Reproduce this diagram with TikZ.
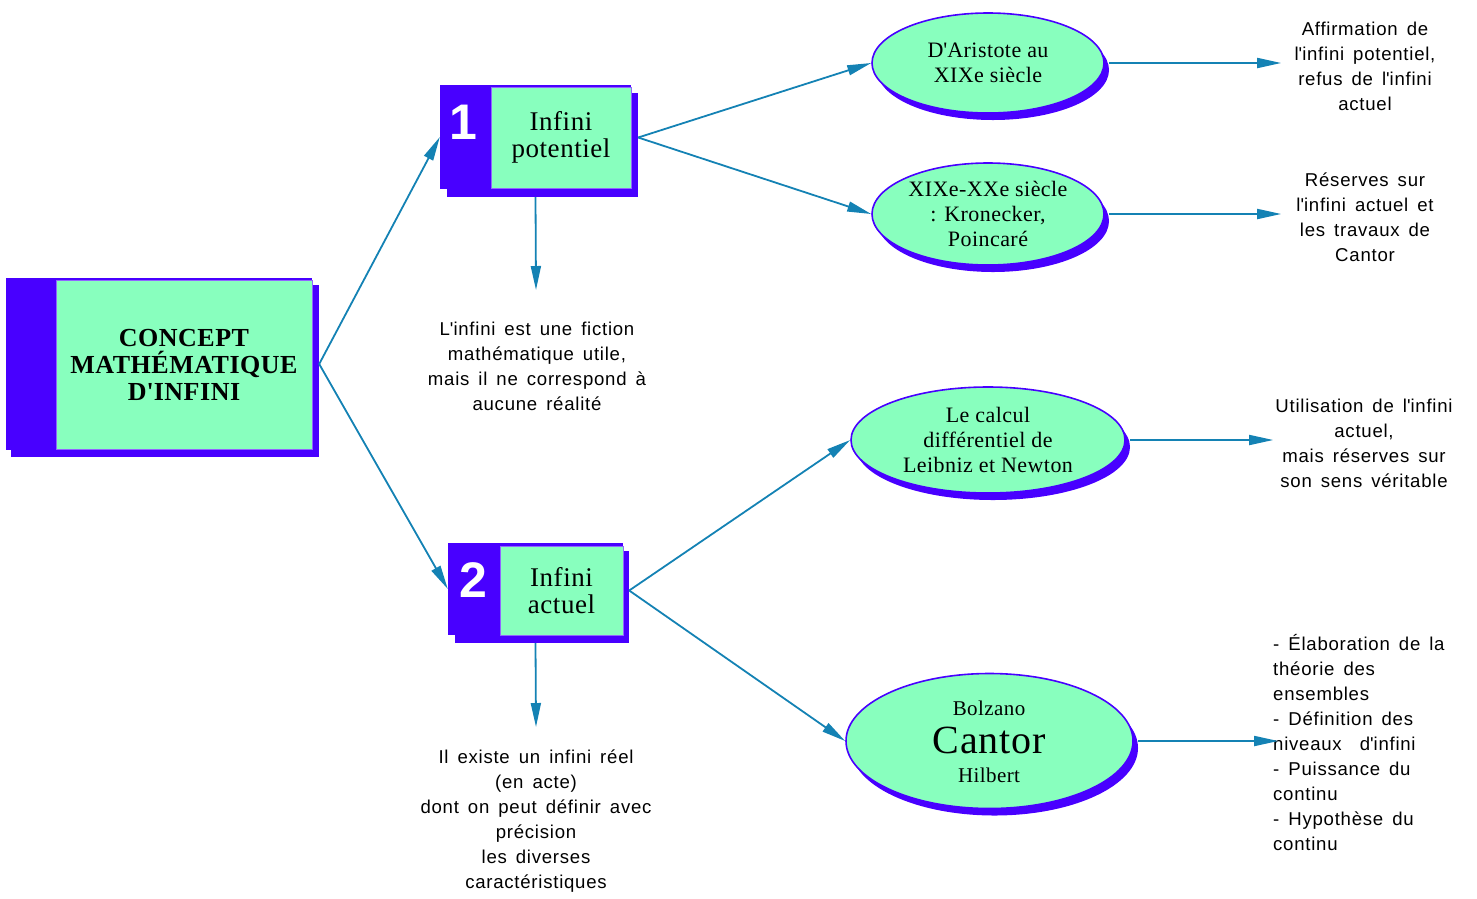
\documentclass[tikz,border=0pt]{standalone}
\usepackage{fontspec}
\setmainfont{Liberation Serif}[LetterSpace=2]
\setsansfont{Liberation Sans}[LetterSpace=4]
\newfontfamily\numfont{Liberation Sans}
\usetikzlibrary{arrows.meta,shapes.geometric,calc}
\definecolor{mgreen}{RGB}{136,255,190}
\definecolor{mblue}{RGB}{72,0,255}
\definecolor{marrow}{RGB}{20,130,180}
\newcommand{\ap}{\textquotesingle}
\newcommand{\notefont}{\sffamily\fontsize{18.6}{25}\selectfont\spaceskip=9pt plus 2pt minus 1pt\relax}
\tikzset{
  bluebox/.style={fill=mblue,draw=none,inner sep=0,rectangle},
  greenbox/.style={fill=mgreen,draw=mblue!60,line width=0.8pt,inner sep=0,rectangle,align=center,font=\fontsize{27}{27}\selectfont},
  shad/.style={fill=mblue,draw=none,inner sep=0},
  ell/.style={ellipse,fill=mgreen,draw=mblue,line width=1.6pt,inner sep=0,align=center,font=\fontsize{22}{25}\selectfont},
  ellshad/.style={ellipse,fill=mblue,draw=none,inner sep=0},
  conn/.style={draw=marrow,line width=1.8pt,-{Triangle[length=24pt,width=10pt]}},
  note/.style={inner sep=0,align=center,font=\notefont},
  num/.style={text=white,inner sep=0,font=\numfont\bfseries\fontsize{50}{50}\selectfont}
}
\begin{document}
\begin{tikzpicture}[x=1pt,y=-1pt]
\useasboundingbox (0,0) rectangle (1477,898);
% main box
\node[shad,minimum width=308,minimum height=172] (ms) at (165,371) {};
\node[bluebox,minimum width=306,minimum height=172] (m) at (159,364) {};
\node[greenbox,minimum width=256,minimum height=169,font=\bfseries\fontsize{26}{27}\selectfont] (mg) at (184,364.5) {CONCEPT\\MATHÉMATIQUE\\D\ap INFINI};
% box 1
\node[shad,minimum width=191,minimum height=104] (b1s) at (542.5,145) {};
\node[bluebox,minimum width=191,minimum height=104] (b1) at (535.5,137) {};
\node[greenbox,minimum width=140,minimum height=101] (b1g) at (561,137.5) {Infini\\potentiel};
\node[num] (n1) at (463,122) {1};
% box 2
\node[shad,minimum width=174,minimum height=92] (b2s) at (542,597) {};
\node[bluebox,minimum width=175,minimum height=92] (b2) at (535.5,589) {};
\node[greenbox,minimum width=123,minimum height=89] (b2g) at (561.5,590.5) {Infini\\actuel};
\node[num] (n2) at (473,580) {2};
% ellipses
\node[ellshad,minimum width=232,minimum height=100] (e1s) at (993,70) {};
\node[ell,minimum width=232,minimum height=100] (e1) at (988,63) {D\ap Aristote au\\XIXe siècle};
\node[ellshad,minimum width=232,minimum height=102] (e2s) at (993,221) {};
\node[ell,minimum width=232,minimum height=102] (e2) at (988,214) {XIXe-XXe siècle\\: Kronecker,\\Poincaré};
\node[ellshad,minimum width=274,minimum height=106] (e3s) at (993,447) {};
\node[ell,minimum width=274,minimum height=106] (e3) at (988,440) {Le calcul\\différentiel de\\Leibniz et Newton};
\node[ellshad,minimum width=287,minimum height=135] (e4s) at (994.5,748) {};
\node[ell,minimum width=287,minimum height=135] (e4) at (989.5,741) {};
\node[inner sep=0,font=\fontsize{21}{21}\selectfont] (e4a) at (989,708) {Bolzano};
\node[inner sep=0,font=\fontsize{40}{40}\selectfont] (e4b) at (989,740) {Cantor};
\node[inner sep=0,font=\fontsize{21}{21}\selectfont] (e4c) at (989,775) {Hilbert};
% notes
\node[note] (t1) at (1365,66) {Affirmation de\\l\ap infini potentiel,\\refus de l\ap infini\\actuel};
\node[note] (t2) at (1365,217) {Réserves sur\\l\ap infini actuel et\\les travaux de\\Cantor};
\node[note] (t3) at (1364,443) {Utilisation de l\ap infini\\actuel,\\mais réserves sur\\son sens véritable};
\node[note,align=left,anchor=north west] (t4) at (1273,634) {- Élaboration de la\\théorie des\\ensembles\\- Définition des\\niveaux\ \ d\ap infini\\- Puissance du\\continu\\- Hypothèse du\\continu};
\node[note] (t5) at (537,366) {L\ap infini est une fiction\\mathématique utile,\\mais il ne correspond à\\aucune réalité};
\node[note] (t6) at (536,821) {Il existe un infini réel\\(en acte)\\dont on peut définir avec\\précision\\les diverses\\caractéristiques};
% coordinates
\coordinate (mr) at (ms.east |- m.center);
\coordinate (b1r) at (b1s.east |- b1g.center);
\coordinate (b1b) at (b1.south |- b1s.south);
\coordinate (b1d) at (536,290);
\coordinate (b2r) at (b2s.east |- b2g.center);
\coordinate (b2b) at (b2.south |- b2s.south);
\coordinate (b2d) at (536,727);
\coordinate (e1r) at (e1s.east |- e1.center);
\coordinate (e2r) at (e2s.east |- e2.center);
\coordinate (e3r) at (e3s.east |- e3.center);
\coordinate (e4r) at (e4s.east |- e4.center);
\coordinate (t1l) at ($(e1r)+(172,0)$);
\coordinate (t2l) at ($(e2r)+(172,0)$);
\coordinate (t3l) at ($(e3r)+(143,0)$);
\coordinate (t4l) at ($(e4r)+(140,0)$);
% connectors
\draw[conn] (mr) -- (b1.west);
\draw[conn] (mr) -- (b2.west);
\draw[conn] (b1r) -- (e1.west);
\draw[conn] (b1r) -- (e2.west);
\draw[conn] (b1b) -- (b1d);
\draw[conn] (b2r) -- (e3.west);
\draw[conn] (b2r) -- (e4.west);
\draw[conn] (b2b) -- (b2d);
\draw[conn] (e1r) -- (t1l);
\draw[conn] (e2r) -- (t2l);
\draw[conn] (e3r) -- (t3l);
\draw[conn] (e4r) -- (t4l);
\end{tikzpicture}
\end{document}
